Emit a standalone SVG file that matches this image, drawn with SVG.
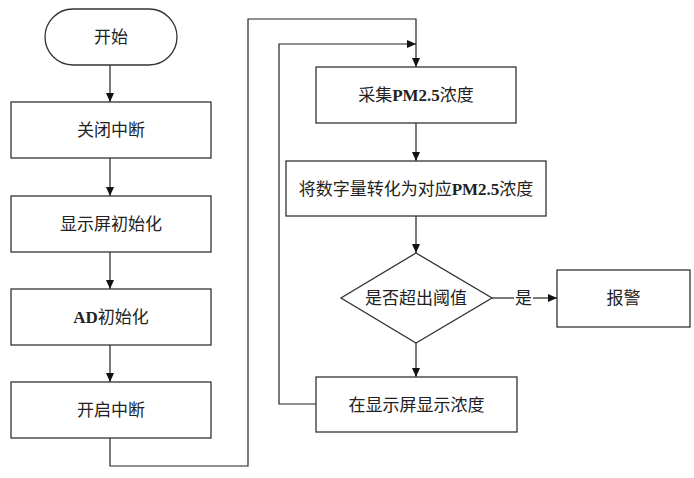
<svg xmlns="http://www.w3.org/2000/svg" width="694" height="478" viewBox="0 0 694 478">
<style>
.n{fill:#fff;stroke:#333;stroke-width:1.3}
.t{font-family:"Liberation Serif","Noto Sans CJK SC",serif;font-size:17px;fill:#222;text-anchor:middle;dominant-baseline:central}
.t tspan.l{font-weight:bold}
.c{fill:none;stroke:#222;stroke-width:1.2}
</style>
<defs>
<marker id="a" markerWidth="10" markerHeight="8" refX="9" refY="4" orient="auto" markerUnits="userSpaceOnUse">
<path d="M0,0 L9,4 L0,8 Z" fill="#111"/>
</marker>
</defs>
<rect width="694" height="478" fill="#fff"/>
<g id="connectors">
<line class="c" x1="110" y1="65" x2="110" y2="102" marker-end="url(#a)"/>
<line class="c" x1="110" y1="158" x2="110" y2="196" marker-end="url(#a)"/>
<line class="c" x1="110" y1="252" x2="110" y2="289" marker-end="url(#a)"/>
<line class="c" x1="110" y1="345" x2="110" y2="382" marker-end="url(#a)"/>
<polyline class="c" points="110,438 110,466 248,466 248,19 416,19 416,67" marker-end="url(#a)"/>
<polyline class="c" points="316,404 279,404 279,44 416,44" marker-end="url(#a)"/>
<line class="c" x1="416" y1="123" x2="416" y2="161" marker-end="url(#a)"/>
<line class="c" x1="416" y1="216" x2="416" y2="253" marker-end="url(#a)"/>
<line class="c" x1="416" y1="343" x2="416" y2="377" marker-end="url(#a)"/>
<line class="c" x1="492" y1="298" x2="514" y2="298"/>
<line class="c" x1="533" y1="298" x2="557" y2="298" marker-end="url(#a)"/>
<text class="t" x="523.5" y="298">是</text>
</g>
<g id="start">
<rect class="n" x="45" y="9" width="132" height="56" rx="28" ry="28"/>
<text class="t" x="111" y="37">开始</text>
</g>
<g id="close-int">
<rect class="n" x="11" y="102" width="200" height="56"/>
<text class="t" x="111" y="130">关闭中断</text>
</g>
<g id="lcd-init">
<rect class="n" x="11" y="196" width="200" height="56"/>
<text class="t" x="111" y="224">显示屏初始化</text>
</g>
<g id="ad-init">
<rect class="n" x="11" y="289" width="200" height="56"/>
<text class="t" x="111" y="317"><tspan class="l">AD</tspan>初始化</text>
</g>
<g id="open-int">
<rect class="n" x="11" y="382" width="200" height="56"/>
<text class="t" x="111" y="410">开启中断</text>
</g>
<g id="collect">
<rect class="n" x="316" y="67" width="200" height="56"/>
<text class="t" x="416" y="95">采集<tspan class="l">PM2.5</tspan>浓度</text>
</g>
<g id="convert">
<rect class="n" x="286" y="161" width="260" height="55"/>
<text class="t" x="416" y="189">将数字量转化为对应<tspan class="l">PM2.5</tspan>浓度</text>
</g>
<g id="decision">
<polygon class="n" points="416,253 492,298 416,343 341,298"/>
<text class="t" x="416" y="298">是否超出阈值</text>
</g>
<g id="alarm">
<rect class="n" x="557" y="270" width="133" height="57"/>
<text class="t" x="623.5" y="298">报警</text>
</g>
<g id="display">
<rect class="n" x="316" y="377" width="201" height="55"/>
<text class="t" x="416.5" y="405">在显示屏显示浓度</text>
</g>
</svg>
